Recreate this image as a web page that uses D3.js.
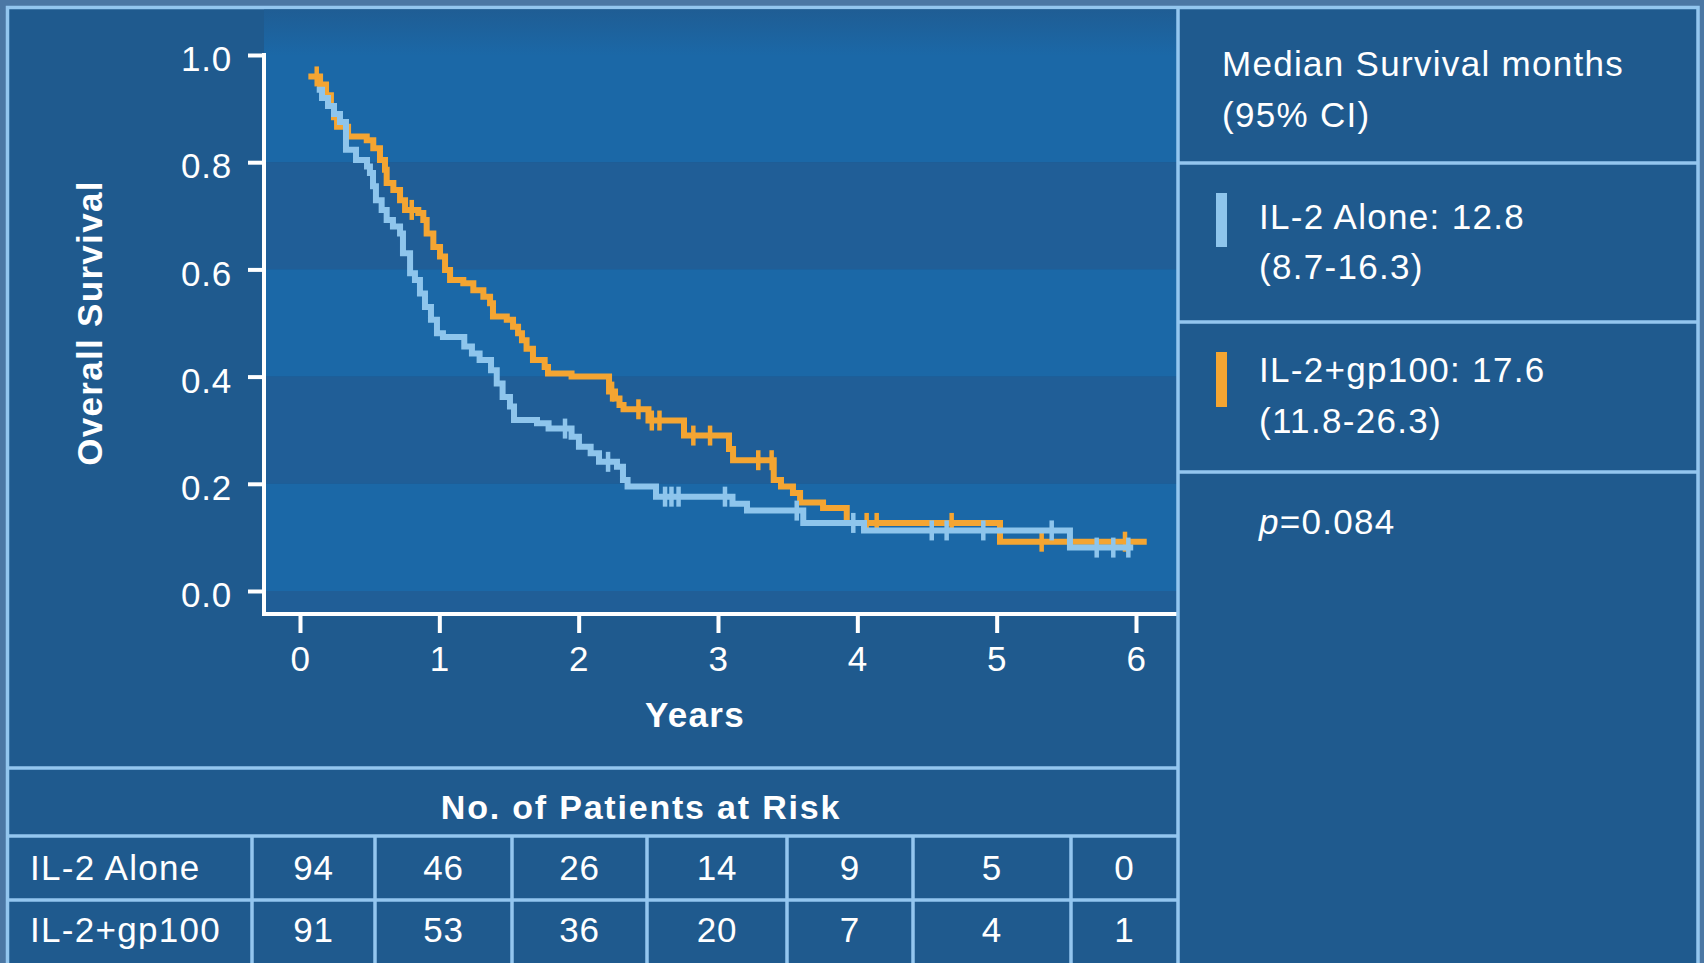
<!DOCTYPE html>
<html><head><meta charset="utf-8">
<script src="https://cdn.jsdelivr.net/npm/d3@7"></script>
<style>
html,body{margin:0;padding:0;background:#4b77a4;overflow:hidden;}
svg{display:block;}
text{font-family:"Liberation Sans",Arial,Helvetica,sans-serif;fill:#ffffff;}
</style></head><body>
<svg id="c" width="1704" height="963"></svg>
<script>
// ---------------- data ----------------
const years = [0, 1, 2, 3, 4, 5, 6];
const survivalTicks = [0, 0.2, 0.4, 0.6, 0.8, 1.0];

// Kaplan-Meier steps: [time in years, survival from that time on]
const il2AloneSteps = [[0.12,0.935],[0.158,0.92],[0.201,0.905],[0.244,0.89],[0.287,0.875],[0.330,0.823],[0.402,0.804],[0.481,0.792],[0.502,0.780],[0.524,0.755],[0.545,0.729],[0.586,0.711],[0.622,0.692],[0.667,0.680],[0.718,0.667],[0.739,0.630],[0.790,0.593],[0.825,0.580],[0.861,0.555],[0.897,0.530],[0.940,0.506],[0.983,0.481],[1.026,0.474],[1.179,0.456],[1.234,0.443],[1.289,0.431],[1.371,0.412],[1.412,0.387],[1.454,0.362],[1.507,0.344],[1.536,0.319],[1.701,0.313],[1.784,0.303],[1.949,0.288],[2.002,0.269],[2.086,0.257],[2.146,0.241],[2.275,0.232],[2.318,0.207],[2.351,0.195],[2.555,0.176],[3.104,0.163],[3.208,0.150],[3.612,0.127],[4.048,0.113],[5.526,0.081]];
const il2AloneEnd = 5.98;
const il2AloneCensored = [1.902,2.211,2.620,2.666,2.717,3.050,3.565,3.971,4.534,4.641,4.904,5.395,5.718,5.837,5.945];

const il2Gp100Steps = [[0.060,0.96],[0.144,0.945],[0.187,0.925],[0.222,0.905],[0.244,0.884],[0.266,0.866],[0.345,0.848],[0.479,0.841],[0.526,0.826],[0.574,0.804],[0.610,0.786],[0.622,0.761],[0.670,0.748],[0.718,0.729],[0.754,0.711],[0.849,0.705],[0.885,0.692],[0.909,0.667],[0.957,0.642],[1.005,0.624],[1.041,0.599],[1.077,0.580],[1.172,0.574],[1.244,0.561],[1.316,0.549],[1.364,0.537],[1.385,0.512],[1.484,0.506],[1.529,0.493],[1.565,0.481],[1.593,0.468],[1.626,0.452],[1.672,0.431],[1.756,0.418],[1.780,0.406],[1.949,0.400],[2.218,0.372],[2.261,0.359],[2.293,0.347],[2.322,0.339],[2.501,0.318],[2.756,0.290],[3.079,0.265],[3.108,0.244],[3.400,0.207],[3.452,0.195],[3.538,0.183],[3.589,0.165],[3.754,0.155],[3.924,0.127],[5.024,0.092]];
const il2Gp100End = 6.077;
const il2Gp100Censored = [0.120,0.802,2.240,2.429,2.525,2.580,2.823,2.943,3.289,3.385,4.067,4.139,4.677,5.323,5.921];

const riskGroups = ["IL-2 Alone", "IL-2+gp100"];
const riskIL2Alone = [94, 46, 26, 14, 9, 5, 0];
const riskIL2Gp100 = [91, 53, 36, 20, 7, 4, 1];

const legendTitle = ["Median Survival months", "(95% CI)"];
const legendIL2Alone = ["IL-2 Alone: 12.8", "(8.7-16.3)"];
const legendIL2Gp100 = ["IL-2+gp100: 17.6", "(11.8-26.3)"];
const pValue = "0.084";

// ---------------- style / layout ----------------
const W = 1704, H = 963;
const C = {
  panel: "#1f5a8e", bandLight: "#1b68a7", bandDark: "#205e97",
  frame: "#93c6ef", blue: "#8ec5ec", orange: "#f4a532", white: "#ffffff"
};
const FS = 35, LS = "1.3px";
const divX = 1178, rightEdge = 1698, frameTop = 7.5, frameLeft = 7.5;
const axisX = 264, axisY = 614;
const tableTop = 768, rowTop1 = 836, rowTop2 = 900;
const colEdges = [252, 375, 512, 647, 787, 913, 1071, 1178];

const svg = d3.select("#c");
const x = d3.scaleLinear().domain([0, 6]).range([300, 1136]);
const y = d3.scaleLinear().domain([0, 1]).range([591, 55]);

const defs = svg.append("defs");
const grad = defs.append("linearGradient").attr("id", "topBand").attr("x1", 0).attr("x2", 0).attr("y1", 0).attr("y2", 1);
grad.append("stop").attr("offset", "0%").attr("stop-color", "#1f5d94");
grad.append("stop").attr("offset", "30%").attr("stop-color", C.bandLight);
grad.append("stop").attr("offset", "100%").attr("stop-color", C.bandLight);

// outer frame / panel
svg.append("rect").attr("x", frameLeft).attr("y", frameTop)
  .attr("width", rightEdge - frameLeft).attr("height", H + 20)
  .attr("fill", C.panel).attr("stroke", C.frame).attr("stroke-width", 3.5);

// plot bands
const bandStops = [frameTop + 2, y(0.8), y(0.6), y(0.4), y(0.2), y(0), axisY];
for (let i = 0; i < bandStops.length - 1; i++) {
  svg.append("rect").attr("x", axisX).attr("y", bandStops[i])
    .attr("width", divX - axisX).attr("height", bandStops[i + 1] - bandStops[i])
    .attr("fill", i === 0 ? "url(#topBand)" : (i % 2 === 0 ? C.bandLight : C.bandDark));
}

// axes
const yAxis = svg.append("g").attr("transform", `translate(${axisX},0)`)
  .call(d3.axisLeft(y).tickValues(survivalTicks).tickFormat(d3.format(".1f")).tickSize(16).tickPadding(16));
const xAxis = svg.append("g").attr("transform", `translate(0,${axisY})`)
  .call(d3.axisBottom(x).tickValues(years).tickFormat(d3.format("d")).tickSize(19).tickPadding(13));
[yAxis, xAxis].forEach(g => {
  g.select(".domain").remove();
  g.selectAll(".tick line").attr("stroke", C.white).attr("stroke-width", 4);
  g.selectAll(".tick text").attr("fill", C.white).style("font-size", FS + "px")
    .style("font-family", '"Liberation Sans",Arial,sans-serif').style("letter-spacing", "0.8px");
});
yAxis.selectAll(".tick text").attr("dy", "0.45em");
svg.append("line").attr("x1", axisX).attr("x2", axisX).attr("y1", y(1) - 2).attr("y2", axisY + 2)
  .attr("stroke", C.white).attr("stroke-width", 4);
svg.append("line").attr("x1", axisX - 2).attr("x2", divX).attr("y1", axisY).attr("y2", axisY)
  .attr("stroke", C.white).attr("stroke-width", 4);

// axis titles
svg.append("text").attr("transform", "translate(102,323) rotate(-90)")
  .attr("text-anchor", "middle").style("font-size", FS + "px").style("font-weight", "bold")
  .style("letter-spacing", LS).text("Overall Survival");
svg.append("text").attr("x", 695).attr("y", 727).attr("text-anchor", "middle")
  .style("font-size", FS + "px").style("font-weight", "bold").style("letter-spacing", LS).text("Years");

// curves
function survAt(steps, t) {
  let s = steps[0][1];
  for (const st of steps) { if (st[0] <= t) s = st[1]; }
  return s;
}
const line = d3.line().x(d => x(d[0])).y(d => y(d[1])).curve(d3.curveStepAfter);
const series = [
  { steps: il2Gp100Steps, end: il2Gp100End, cens: il2Gp100Censored, color: C.orange },
  { steps: il2AloneSteps, end: il2AloneEnd, cens: il2AloneCensored, color: C.blue }
];
series.forEach(sr => {
  const pts = sr.steps.concat([[sr.end, sr.steps[sr.steps.length - 1][1]]]);
  svg.append("path").datum(pts).attr("d", line).attr("fill", "none")
    .attr("stroke", sr.color).attr("stroke-width", 6).attr("stroke-linejoin", "miter");
  svg.append("g").selectAll("line").data(sr.cens).join("line")
    .attr("x1", d => x(d)).attr("x2", d => x(d))
    .attr("y1", d => y(survAt(sr.steps, d)) - 10).attr("y2", d => y(survAt(sr.steps, d)) + 10)
    .attr("stroke", sr.color).attr("stroke-width", 4.5);
});

// table lines
const tl = svg.append("g").attr("stroke", C.frame).attr("stroke-width", 3.5);
[tableTop, rowTop1, rowTop2].forEach(yy =>
  tl.append("line").attr("x1", frameLeft).attr("x2", divX).attr("y1", yy).attr("y2", yy));
colEdges.slice(0, -1).forEach(xx =>
  tl.append("line").attr("x1", xx).attr("x2", xx).attr("y1", rowTop1).attr("y2", H + 10));
// right panel lines
[163, 322, 472].forEach(yy =>
  tl.append("line").attr("x1", divX).attr("x2", rightEdge).attr("y1", yy).attr("y2", yy));
tl.append("line").attr("x1", divX).attr("x2", divX).attr("y1", frameTop).attr("y2", H + 10);

// table text
svg.append("text").attr("x", 641).attr("y", 819).attr("text-anchor", "middle")
  .style("font-size", "34px").style("font-weight", "bold").style("letter-spacing", "1.8px")
  .text("No. of Patients at Risk");
const rowBase = [880, 942];
[riskIL2Alone, riskIL2Gp100].forEach((vals, r) => {
  svg.append("text").attr("x", 30).attr("y", rowBase[r]).style("font-size", FS + "px")
    .style("letter-spacing", LS).text(riskGroups[r]);
  svg.append("g").selectAll("text").data(vals).join("text")
    .attr("x", (d, i) => (colEdges[i] + colEdges[i + 1]) / 2).attr("y", rowBase[r])
    .attr("text-anchor", "middle").style("font-size", FS + "px").style("letter-spacing", "0.8px")
    .text(d => d);
});

// legend panel
function addLines(lines, xx, bases) {
  lines.forEach((t, i) => svg.append("text").attr("x", xx).attr("y", bases[i])
    .style("font-size", FS + "px").style("letter-spacing", LS).text(t));
}
addLines(legendTitle, 1222, [76, 127]);
addLines(legendIL2Alone, 1259, [229, 279]);
addLines(legendIL2Gp100, 1259, [382, 433]);
svg.append("rect").attr("x", 1216).attr("y", 193).attr("width", 11).attr("height", 54).attr("fill", C.blue);
svg.append("rect").attr("x", 1216).attr("y", 352).attr("width", 11).attr("height", 55).attr("fill", C.orange);
const pt = svg.append("text").attr("x", 1259).attr("y", 534).style("font-size", FS + "px").style("letter-spacing", LS);
pt.append("tspan").style("font-style", "italic").text("p");
pt.append("tspan").text("=" + pValue);
</script>
</body></html>
